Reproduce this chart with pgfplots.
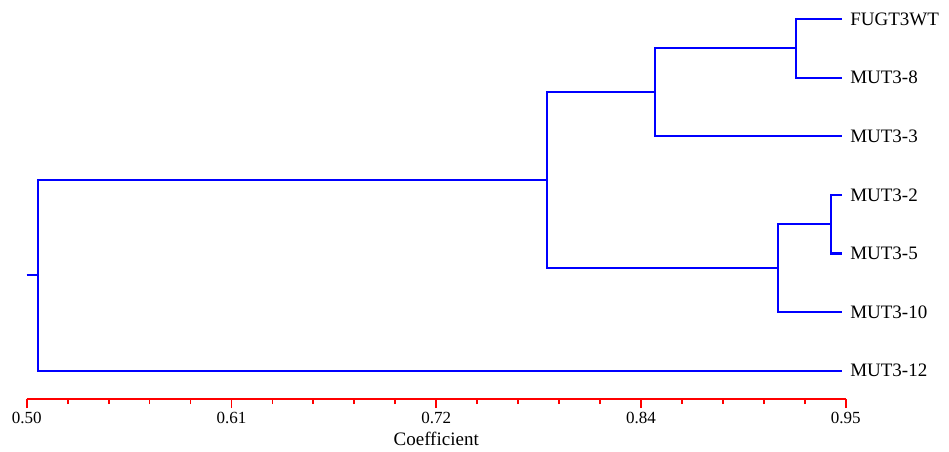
\documentclass[border=0pt]{standalone}
\usepackage{fontspec}
\setmainfont{Liberation Serif}
\usepackage{pgfplots}
\pgfplotsset{compat=1.18}
\begin{document}
\begin{tikzpicture}[x=1pt,y=1pt]
\useasboundingbox (-26.7,-52) rectangle (922.3,399);
\begin{axis}[
  at={(0,0)}, anchor=south west,
  scale only axis, width=819pt, height=380pt,
  xmin=0.5, xmax=0.95, ymin=0.5154, ymax=7,
  clip=false,
  axis y line=none,
  axis x line=bottom,
  x axis line style={red, line width=1.8pt, -},
  xtick={0.5,0.6125,0.725,0.8375,0.95},
  xticklabels={0.50,0.61,0.72,0.84,0.95},
  minor x tick num=4,
  tick align=outside,
  major tick length=9pt, minor tick length=5pt,
  every major tick/.style={red, line width=1.8pt},
  every minor tick/.style={red, line width=1.8pt},
  tick label style={font=\fontsize{17}{20}\selectfont, black},
  xticklabel style={yshift=-1pt},
  /pgf/number format/assume math mode=true,
  xlabel={Coefficient},
  xlabel style={font=\fontsize{19}{22}\selectfont, yshift=-1pt},
  dend/.style={blue, line width=2.2pt, line join=miter, no marks},
]
% J1: FUGT3WT + MUT3-8
\addplot[dend] coordinates {(0.948,7) (0.9225,7) (0.9225,6) (0.948,6)};
% J2: J1 + MUT3-3
\addplot[dend] coordinates {(0.9225,6.5) (0.8452,6.5) (0.8452,5) (0.948,5)};
% J3: MUT3-2 + MUT3-5
\addplot[dend] coordinates {(0.948,4) (0.9419,4) (0.9419,3) (0.948,3)};
% J4: J3 + MUT3-10
\addplot[dend] coordinates {(0.9419,3.5) (0.9130,3.5) (0.9130,2) (0.948,2)};
% J5: J2 + J4
\addplot[dend] coordinates {(0.8452,5.75) (0.7859,5.75) (0.7859,2.75) (0.9130,2.75)};
% J6: J5 + MUT3-12
\addplot[dend] coordinates {(0.7859,4.25) (0.506,4.25) (0.506,1) (0.948,1)};
% root stub
\addplot[dend] coordinates {(0.5,2.625) (0.506,2.625)};
\begin{scope}[every node/.style={anchor=west, inner sep=0pt, xshift=8pt, font=\fontsize{19}{22}\selectfont}]
\node at (axis cs:0.948,7) {FUGT3WT};
\node at (axis cs:0.948,6) {MUT3-8};
\node at (axis cs:0.948,5) {MUT3-3};
\node at (axis cs:0.948,4) {MUT3-2};
\node at (axis cs:0.948,3) {MUT3-5};
\node at (axis cs:0.948,2) {MUT3-10};
\node at (axis cs:0.948,1) {MUT3-12};
\end{scope}
\end{axis}
\end{tikzpicture}
\end{document}
